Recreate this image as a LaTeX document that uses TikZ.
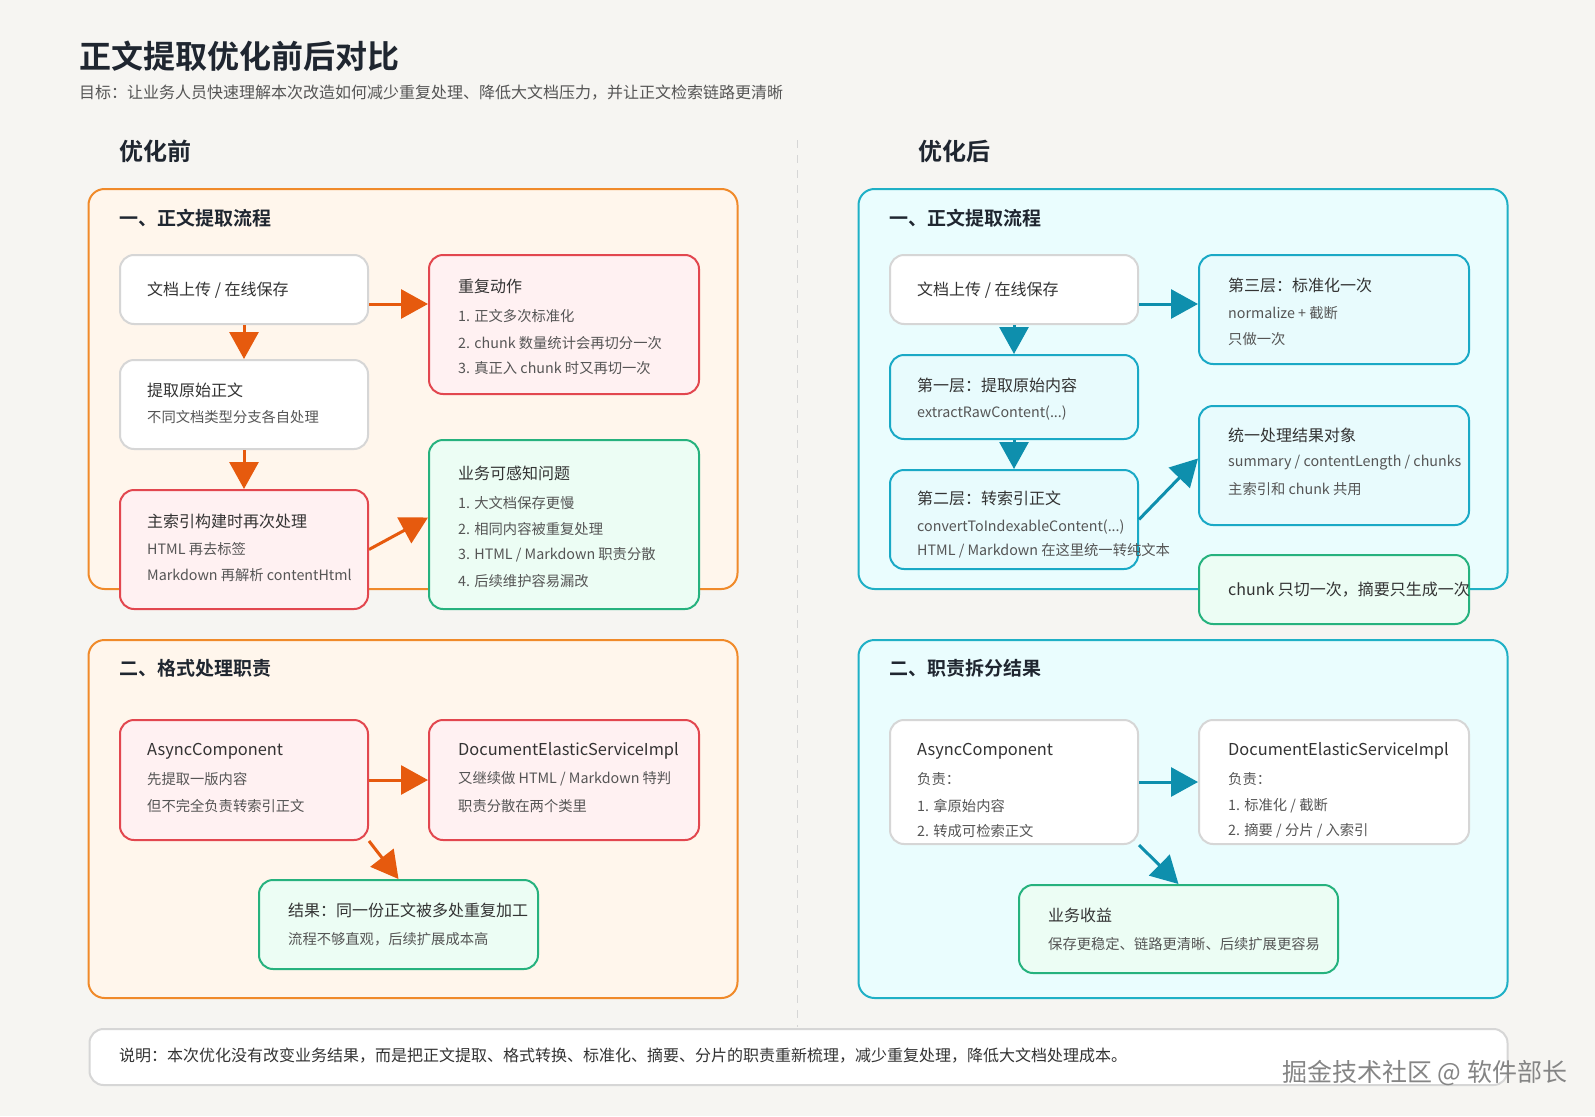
\documentclass[tikz,border=0pt]{standalone}
\usepackage{fontspec}
\setmainfont{Noto Sans CJK SC}[BoldFont={Noto Sans CJK SC Bold}]
\usetikzlibrary{arrows.meta,calc}
\definecolor{bgc}{HTML}{F6F5F2}
\definecolor{ink}{HTML}{1F2630}
\definecolor{txt}{HTML}{333333}
\definecolor{subc}{HTML}{555555}
\definecolor{orgB}{HTML}{F08A2A}
\definecolor{orgF}{HTML}{FFF6EC}
\definecolor{orgA}{HTML}{E65A0E}
\definecolor{tealB}{HTML}{1FB0C6}
\definecolor{tealF}{HTML}{EAFDFE}
\definecolor{tealA}{HTML}{0E8FAD}
\definecolor{tnodeB}{HTML}{1AA9C6}
\definecolor{tnodeF}{HTML}{E8FBFD}
\definecolor{redB}{HTML}{E2474F}
\definecolor{redF}{HTML}{FFF1F2}
\definecolor{grnB}{HTML}{26B27E}
\definecolor{grnF}{HTML}{ECFDF4}
\definecolor{grayB}{HTML}{D6D6D6}
\definecolor{wmc}{HTML}{858585}
\newcommand{\myfs}[1]{\fontsize{#1}{#1}\selectfont}
\begin{document}
\begin{tikzpicture}[x=1pt,y=-1pt,
  panelL/.style={draw=orgB,fill=orgF,line width=2pt,rounded corners=16pt},
  panelR/.style={draw=tealB,fill=tealF,line width=2pt,rounded corners=16pt},
  boxbase/.style={rectangle,anchor=north west,line width=2pt,rounded corners=14pt,inner sep=0pt},
  wbox/.style={boxbase,draw=grayB,fill=white},
  rbox/.style={boxbase,draw=redB,fill=redF},
  gbox/.style={boxbase,draw=grnB,fill=grnF},
  tbox/.style={boxbase,draw=tnodeB,fill=tnodeF},
  tt/.style={anchor=west,inner sep=0pt,text=txt,font=\myfs{16}},
  st/.style={anchor=west,inner sep=0pt,text=subc,font=\myfs{14.3}},
  ph/.style={anchor=west,inner sep=0pt,text=ink,font=\myfs{19}\bfseries},
  oarr/.style={draw=orgA,line width=3pt,-{Triangle[length=27pt,width=29pt]}},
  tarr/.style={draw=tealA,line width=3pt,-{Triangle[length=27pt,width=29pt]}}]
\fill[bgc] (0,0) rectangle (1595,1116);
\useasboundingbox (0,0) rectangle (1595,1116);

% titles
\node[anchor=west,inner sep=0pt,text=ink,font=\myfs{32}\bfseries] (title) at (79,56) {正文提取优化前后对比};
\node[anchor=west,inner sep=0pt,text=subc,font=\myfs{16}] (subtitle) at (79,93) {目标：让业务人员快速理解本次改造如何减少重复处理、降低大文档压力，并让正文检索链路更清晰};
\node[anchor=west,inner sep=0pt,text=ink,font=\myfs{24}\bfseries] (hbefore) at (119,151) {优化前};
\node[anchor=west,inner sep=0pt,text=ink,font=\myfs{24}\bfseries] (hafter) at (918,151) {优化后};

% divider
\coordinate (dv1) at (797.5,140);
\coordinate (dv2) at (797.5,1027);
\draw[grayB,line width=1.5pt,dash pattern=on 8pt off 7pt] (dv1) -- (dv2);

% panels
\draw[panelL] (88.5,189) rectangle (737.5,589);
\draw[panelR] (858.5,189) rectangle (1507.5,589);
\draw[panelL] (88.5,640) rectangle (737.5,998);
\draw[panelR] (858.5,640) rectangle (1507.5,998);

% ===== left top =====
\node[ph] (lth) at (119,218) {一、正文提取流程};
\node[wbox,minimum width=248,minimum height=69] (a1) at (119,254) {};
\node[rbox,minimum width=270,minimum height=139] (a2) at (428,254) {};
\node[wbox,minimum width=248,minimum height=89] (a3) at (119,359) {};
\node[rbox,minimum width=248,minimum height=119] (a4) at (119,489) {};
\node[gbox,minimum width=270,minimum height=169] (a5) at (428,439) {};

\node[tt] (a1t) at (147,290) {文档上传 / 在线保存};
\node[tt] (a2t) at (458,286) {重复动作};
\node[st] (a2s1) at (458,316) {1. 正文多次标准化};
\node[st] (a2s2) at (458,343) {2. chunk 数量统计会再切分一次};
\node[st] (a2s3) at (458,368) {3. 真正入 chunk 时又再切一次};
\node[tt] (a3t) at (147,390) {提取原始正文};
\node[st] (a3s1) at (147,417) {不同文档类型分支各自处理};
\node[tt] (a4t) at (147,521) {主索引构建时再次处理};
\node[st] (a4s1) at (147,549) {HTML 再去标签};
\node[st] (a4s2) at (147,575) {Markdown 再解析 contentHtml};
\node[tt] (a5t) at (458,473) {业务可感知问题};
\node[st] (a5s1) at (458,503) {1. 大文档保存更慢};
\node[st] (a5s2) at (458,529) {2. 相同内容被重复处理};
\node[st] (a5s3) at (458,555) {3. HTML / Markdown 职责分散};
\node[st] (a5s4) at (458,581) {4. 后续维护容易漏改};

\coordinate (a1e) at ([yshift=-14.5pt]a1.east);
\draw[oarr] (a1e) -- (a1e -| a2.west);
\draw[oarr] (a1.south) -- (a3.north);
\draw[oarr] (a3.south) -- (a4.north);
\draw[oarr] (a4.east) -- ([yshift=7pt]a5.west);

% ===== right top =====
\node[ph] (rth) at (889,218) {一、正文提取流程};
\node[wbox,minimum width=248,minimum height=69] (b1) at (889,254) {};
\node[tbox,minimum width=270,minimum height=109] (b2) at (1198,254) {};
\node[tbox,minimum width=248,minimum height=84] (b3) at (889,354) {};
\node[tbox,minimum width=248,minimum height=99] (b4) at (889,469) {};
\node[tbox,minimum width=270,minimum height=119] (b5) at (1198,405) {};
\node[gbox,minimum width=270,minimum height=69] (b6) at (1198,554) {};

\node[tt] (b1t) at (917,290) {文档上传 / 在线保存};
\node[tt] (b2t) at (1228,285) {第三层：标准化一次};
\node[st] (b2s1) at (1228,313) {normalize + 截断};
\node[st] (b2s2) at (1228,339) {只做一次};
\node[tt] (b3t) at (917,385) {第一层：提取原始内容};
\node[st] (b3s1) at (917,413) {extractRawContent(...)};
\node[tt] (b4t) at (917,498) {第二层：转索引正文};
\node[st] (b4s1) at (917,527) {convertToIndexableContent(...)};
\node[st] (b4s2) at (917,551) {HTML / Markdown 在这里统一转纯文本};
\node[tt] (b5t) at (1228,435) {统一处理结果对象};
\node[st] (b5s1) at (1228,463) {summary / contentLength / chunks};
\node[st] (b5s2) at (1228,489) {主索引和 chunk 共用};
\node[tt] (b6t) at (1228,590) {chunk 只切一次，摘要只生成一次};

\coordinate (b1e) at ([yshift=-14.5pt]b1.east);
\draw[tarr] (b1e) -- (b1e -| b2.west);
\draw[tarr] (b1.south) -- (b3.north);
\draw[tarr] (b3.south) -- (b4.north);
\draw[tarr] (b4.east) -- ([yshift=7pt]b5.west);

% ===== left bottom =====
\node[ph] (lbh) at (119,668) {二、格式处理职责};
\node[rbox,minimum width=248,minimum height=120] (c1) at (119,719) {};
\node[rbox,minimum width=270,minimum height=120] (c2) at (428,719) {};
\node[gbox,minimum width=279,minimum height=89] (c3) at (258,879) {};

\node[tt,font=\myfs{16.4}] (c1t) at (147,751) {AsyncComponent};
\node[st] (c1s1) at (147,779) {先提取一版内容};
\node[st] (c1s2) at (147,806) {但不完全负责转索引正文};
\node[tt,font=\myfs{16.4}] (c2t) at (458,751) {DocumentElasticServiceImpl};
\node[st] (c2s1) at (458,779) {又继续做 HTML / Markdown 特判};
\node[st] (c2s2) at (458,806) {职责分散在两个类里};
\node[tt] (c3t) at (288,910) {结果：同一份正文被多处重复加工};
\node[st] (c3s1) at (288,939) {流程不够直观，后续扩展成本高};

\draw[oarr] (c1.east) -- (c2.west);
\draw[oarr] (c1.south east) -- (c3.north);

% ===== right bottom =====
\node[ph] (rbh) at (889,668) {二、职责拆分结果};
\node[wbox,minimum width=248,minimum height=124] (d1) at (889,719) {};
\node[wbox,minimum width=270,minimum height=124] (d2) at (1198,719) {};
\node[gbox,minimum width=319,minimum height=88] (d3) at (1018,884) {};

\node[tt,font=\myfs{16.4}] (d1t) at (917,751) {AsyncComponent};
\node[st] (d1s1) at (917,779) {负责：};
\node[st] (d1s2) at (917,806) {1. 拿原始内容};
\node[st] (d1s3) at (917,831) {2. 转成可检索正文};
\node[tt,font=\myfs{16.4}] (d2t) at (1228,751) {DocumentElasticServiceImpl};
\node[st] (d2s1) at (1228,779) {负责：};
\node[st] (d2s2) at (1228,806) {1. 标准化 / 截断};
\node[st] (d2s3) at (1228,831) {2. 摘要 / 分片 / 入索引};
\node[tt] (d3t) at (1048,915) {业务收益};
\node[st] (d3s1) at (1048,944) {保存更稳定、链路更清晰、后续扩展更容易};

\draw[tarr] (d1.east) -- (d2.west);
\draw[tarr] (d1.south east) -- (d3.north);

% ===== footer =====
\node[boxbase,draw=grayB,fill=white,minimum width=1418,minimum height=56] (foot) at (88.5,1028) {};
\node[st,text=txt,font=\myfs{16}] (foott) at (119,1056) {说明：本次优化没有改变业务结果，而是把正文提取、格式转换、标准化、摘要、分片的职责重新梳理，减少重复处理，降低大文档处理成本。};

\node[anchor=west,inner sep=0pt,text=wmc,font=\myfs{25}] (wm) at (1282,1073) {掘金技术社区 @ 软件部长};
\end{tikzpicture}
\end{document}
